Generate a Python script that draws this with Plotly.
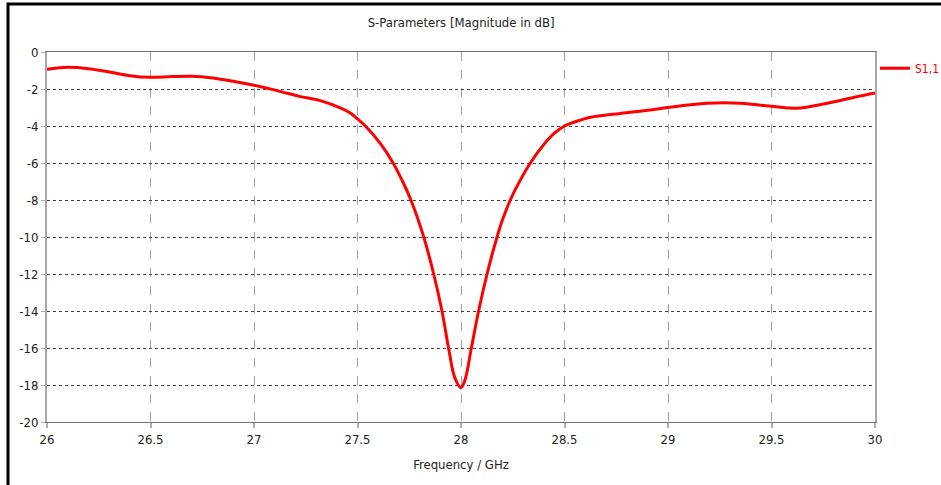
import plotly.graph_objects as go

freq = [26.00, 26.05, 26.10, 26.20, 26.30, 26.40, 26.50, 26.60, 26.70, 26.80, 26.90,
        27.00, 27.13, 27.22, 27.32, 27.42, 27.465, 27.50, 27.538, 27.61, 27.672, 27.718,
        27.758, 27.82, 27.868, 27.908, 27.94, 27.97, 28.00, 28.02, 28.05, 28.085, 28.126,
        28.174, 28.2, 28.238, 28.278, 28.335, 28.40, 28.45, 28.50, 28.577, 28.625, 28.77,
        28.915, 29.00, 29.19, 29.35, 29.51, 29.62, 29.77, 29.90, 30.00]
s11 = [-0.94, -0.86, -0.83, -0.90, -1.08, -1.28, -1.37, -1.33, -1.31, -1.40, -1.58,
       -1.80, -2.14, -2.40, -2.63, -3.04, -3.30, -3.62, -4.00, -4.94, -6.00, -7.00,
       -8.00, -10.0, -12.0, -14.0, -16.0, -17.6, -18.14, -17.7, -16.0, -14.0, -12.0,
       -10.0, -9.08, -8.0, -7.1, -6.0, -5.00, -4.40, -4.00, -3.68, -3.53, -3.32,
       -3.14, -3.00, -2.77, -2.77, -2.95, -3.04, -2.77, -2.45, -2.22]

x_ticks = [26, 26.5, 27, 27.5, 28, 28.5, 29, 29.5, 30]
x_labels = ["26", "26.5", "27", "27.5", "28", "28.5", "29", "29.5", "30"]
y_ticks = [0, -2, -4, -6, -8, -10, -12, -14, -16, -18, -20]
y_labels = ["0", "-2", "-4", "-6", "-8", "-10", "-12", "-14", "-16", "-18", "-20"]

FONT = "DejaVu Sans Condensed, Liberation Sans, sans-serif"

fig = go.Figure()
fig.add_trace(go.Scatter(x=freq, y=s11, mode="lines", name="S1,1",
                         line=dict(color="#ff0000", width=3, shape="spline", smoothing=1.0)))

L, R, T, B = 47, 66, 52, 63
W, H = 941, 485
pw, ph = W - L - R, H - T - B

fig.update_layout(
    width=W, height=H, autosize=False,
    margin=dict(l=L, r=R, t=T, b=B, pad=0, autoexpand=False),
    paper_bgcolor="white", plot_bgcolor="white",
    font=dict(family=FONT, size=13, color="#222"),
    title=dict(text="S-Parameters [Magnitude in dB]", x=0.49, xanchor="center",
               y=1 - 22 / H, yanchor="middle", font=dict(family=FONT, size=13, color="#222")),
    showlegend=True,
    legend=dict(x=1.0, y=0.995, xanchor="left", yanchor="top", bgcolor="rgba(0,0,0,0)",
                font=dict(family=FONT, size=12, color="#ff0000"), itemwidth=30,
                borderwidth=0),
    xaxis=dict(range=[26, 30], tickvals=x_ticks, ticktext=x_labels,
               showgrid=True, gridcolor="#a0a0a0", griddash="dash", gridwidth=1,
               showline=True, linecolor="#707070", linewidth=1, mirror=True,
               ticks="outside", ticklen=5, tickcolor="#b0b0b0", tickwidth=2,
               zeroline=False, fixedrange=True,
               title=dict(text="Frequency / GHz", standoff=14, font=dict(family=FONT, size=13, color="#222"))),
    yaxis=dict(range=[-20, 0], tickvals=y_ticks, ticktext=y_labels,
               showgrid=True, gridcolor="#404040", griddash="dot", gridwidth=1,
               showline=True, linecolor="#a8a8a8", linewidth=2, mirror=True,
               ticks="outside", ticklen=4, tickcolor="#b0b0b0", tickwidth=1,
               zeroline=False, fixedrange=True),
)

# outer frame of the screenshot
fig.add_shape(type="rect", xref="paper", yref="paper",
              x0=(8 - L) / pw, x1=(W + 10 - L) / pw,
              y0=-(H + 10 - T - ph) / ph, y1=1 + (T - 4) / ph,
              line=dict(color="black", width=3), fillcolor="rgba(0,0,0,0)", layer="above")

fig.write_html("out.html")
